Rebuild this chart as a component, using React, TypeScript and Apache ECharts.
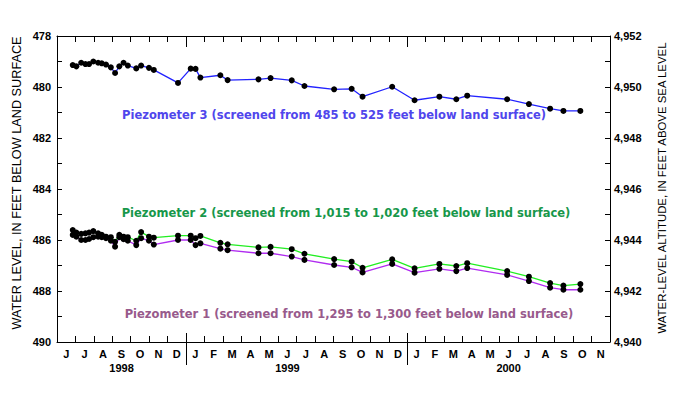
import React, { useEffect, useRef } from "react";
import * as echarts from "echarts";

const dates = [
  "1998-06-27", "1998-07-03", "1998-07-11", "1998-07-18", "1998-07-24", "1998-07-31",
  "1998-08-08", "1998-08-14", "1998-08-21", "1998-08-29", "1998-09-05", "1998-09-12",
  "1998-09-19", "1998-09-26", "1998-10-10", "1998-10-18", "1998-10-31", "1998-11-08",
  "1998-12-18", "1999-01-08", "1999-01-16", "1999-01-24", "1999-02-26", "1999-03-10",
  "1999-04-30", "1999-05-20", "1999-06-24", "1999-07-15", "1999-09-02", "1999-10-01",
  "1999-10-19", "1999-12-07", "2000-01-13", "2000-02-23", "2000-03-22", "2000-04-09",
  "2000-06-14", "2000-07-20", "2000-08-24", "2000-09-15", "2000-10-13",
];

const piezometer3 = [
  479.14, 479.19, 479.05, 479.1, 479.1, 479.0, 479.05, 479.07, 479.12, 479.23, 479.45, 479.19,
  479.05, 479.16, 479.27, 479.16, 479.25, 479.33, 479.84, 479.28, 479.29, 479.63, 479.54, 479.73,
  479.7, 479.65, 479.74, 479.96, 480.09, 480.07, 480.38, 479.99, 480.52, 480.38, 480.48, 480.34,
  480.48, 480.67, 480.85, 480.94, 480.94,
];

const piezometer2 = [
  485.61, 485.71, 485.76, 485.74, 485.71, 485.65, 485.74, 485.8, 485.87, 485.89, 486.07, 485.8,
  485.87, 485.89, 486.03, 485.69, 485.87, 485.91, 485.83, 485.83, 485.93, 485.84, 486.11, 486.17,
  486.29, 486.27, 486.36, 486.54, 486.75, 486.85, 487.09, 486.76, 487.11, 486.94, 487.02, 486.91,
  487.22, 487.44, 487.69, 487.79, 487.73,
];

const piezometer1 = [
  485.8, 485.87, 486.0, 486.0, 485.96, 485.89, 485.87, 485.89, 485.93, 486.03, 486.26, 485.89,
  485.97, 486.03, 486.2, 485.93, 486.03, 486.18, 486.0, 486.0, 486.2, 486.13, 486.34, 486.4,
  486.52, 486.52, 486.65, 486.78, 486.98, 487.07, 487.27, 486.94, 487.28, 487.13, 487.22, 487.1,
  487.37, 487.61, 487.87, 487.95, 487.95,
];

const monthLabels = [
  "J", "J", "A", "S", "O", "N", "D",
  "J", "F", "M", "A", "M", "J", "J", "A", "S", "O", "N", "D",
  "J", "F", "M", "A", "M", "J", "J", "A", "S", "O", "N",
];
const yearLabels = ["1998", "1999", "2000"];
const yearLabelMonthIndex = [3, 12, 24];
const yearStarts = ["1999-01-01", "2000-01-01"];

const depthMin = 478;
const depthMax = 490;
const altMin = 4940;
const altMax = 4952;

const labels = [
  { text: "Piezometer 3 (screened from 485 to 525 feet below land surface)", color: "#5046ec", x: 334, y: 115 },
  { text: "Piezometer 2 (screened from 1,015 to 1,020 feet below land surface)", color: "#17974a", x: 346, y: 213 },
  { text: "Piezometer 1 (screened from 1,295 to 1,300 feet below land surface)", color: "#985a8c", x: 349, y: 314 },
];

const FONT = "Liberation Sans, Arial, sans-serif";
const LABEL_FONT = "DejaVu Sans, Verdana, sans-serif";

export default function App() {
  const ref = useRef<HTMLDivElement>(null);
  useEffect(() => {
    if (!ref.current) return;
    const chart = echarts.init(ref.current, undefined, { renderer: "svg" });
    const mk = (vals: number[]) => dates.map((d, i) => [d, vals[i]]);
    const lineSeries = (name: string, vals: number[], color: string) => ({
      name,
      type: "line",
      xAxisIndex: 0,
      yAxisIndex: 0,
      data: mk(vals),
      symbol: "circle",
      symbolSize: 6,
      showSymbol: true,
      lineStyle: { color, width: 1.3 },
      itemStyle: { color: "#000", borderWidth: 0 },
    });
    const option: any = {
      animation: false,
      backgroundColor: "#fff",
      textStyle: { fontFamily: FONT },
      grid: { left: 57, right: 75, top: 36, bottom: 66, containLabel: false },
      xAxis: [
        {
          type: "time",
          min: new Date(1998, 5, 1).getTime(),
          max: new Date(2000, 11, 1).getTime(),
          show: false,
          position: "bottom",
        },
        {
          type: "category",
          position: "bottom",
          data: monthLabels,
          boundaryGap: true,
          axisLine: { show: true, lineStyle: { color: "#000", width: 1 } },
          axisTick: { show: true, inside: true, length: 6, interval: 0, lineStyle: { color: "#000" } },
          axisLabel: {
            interval: 0,
            margin: 5,
            color: "#000",
            fontSize: 11,
            fontWeight: "bold",
            fontFamily: FONT,
            lineHeight: 14,
            formatter: (v: string, i: number) => {
              const k = yearLabelMonthIndex.indexOf(i);
              return k >= 0 ? v + "\n" + yearLabels[k] : v;
            },
          },
          splitLine: { show: false },
        },
        {
          type: "category",
          position: "top",
          data: monthLabels,
          boundaryGap: true,
          axisLine: { show: true, lineStyle: { color: "#000", width: 1 } },
          axisTick: { show: true, inside: true, length: 6, interval: 0, lineStyle: { color: "#000" } },
          axisLabel: { show: false },
          splitLine: { show: false },
        },
      ],
      yAxis: [
        {
          type: "value",
          inverse: true,
          min: depthMin,
          max: depthMax,
          interval: 1,
          position: "left",
          axisLine: { show: true, lineStyle: { color: "#000" } },
          axisTick: { show: true, inside: true, length: 5, lineStyle: { color: "#000" } },
          axisLabel: {
            color: "#000",
            fontSize: 11,
            fontWeight: "bold",
            fontFamily: FONT,
            margin: 6,
            formatter: (v: number) => (v % 2 === 0 ? String(v) : ""),
          },
          splitLine: { show: false },
        },
        {
          type: "value",
          min: altMin,
          max: altMax,
          interval: 1,
          position: "right",
          axisLine: { show: true, lineStyle: { color: "#000" } },
          axisTick: { show: true, inside: true, length: 5, lineStyle: { color: "#000" } },
          axisLabel: {
            color: "#000",
            fontSize: 11,
            fontWeight: "bold",
            fontFamily: FONT,
            margin: 4,
            formatter: (v: number) => (v % 2 === 0 ? v.toLocaleString("en-US") : ""),
          },
          splitLine: { show: false },
        },
      ],
      series: [
        lineSeries("Piezometer 3", piezometer3, "#2222ff"),
        lineSeries("Piezometer 1", piezometer1, "#b02cf0"),
        lineSeries("Piezometer 2", piezometer2, "#22ee22"),
        {
          type: "custom",
          xAxisIndex: 0,
          yAxisIndex: 0,
          clip: false,
          silent: true,
          data: yearStarts.map((d) => [d, depthMax]),
          renderItem: (params: any, api: any) => {
            const x = Math.round(api.coord([api.value(0), api.value(1)])[0]) + 0.5;
            const cs = params.coordSys;
            const bottom = cs.y + cs.height;
            return {
              type: "group",
              children: [
                { type: "line", shape: { x1: x, y1: bottom - 9, x2: x, y2: bottom + 23 }, style: { stroke: "#000", lineWidth: 1 } },
                { type: "line", shape: { x1: x, y1: cs.y, x2: x, y2: cs.y + 11 }, style: { stroke: "#000", lineWidth: 1 } },
              ],
            };
          },
        },
      ],
      graphic: [
        ...labels.map((l) => ({
          type: "text",
          x: l.x,
          y: l.y,
          style: {
            text: l.text,
            fill: l.color,
            font: `bold 11.5px ${LABEL_FONT}`,
            textAlign: "center",
            textVerticalAlign: "middle",
          },
        })),
        {
          type: "text",
          x: 17,
          y: 183,
          rotation: Math.PI / 2,
          style: {
            text: "WATER LEVEL, IN FEET BELOW LAND SURFACE",
            fill: "#000",
            font: `12.7px ${FONT}`,
            textAlign: "center",
            textVerticalAlign: "middle",
          },
        },
        {
          type: "text",
          x: 662,
          y: 188,
          rotation: Math.PI / 2,
          style: {
            text: "WATER-LEVEL ALTITUDE, IN FEET ABOVE SEA LEVEL",
            fill: "#000",
            font: `11.4px ${FONT}`,
            textAlign: "center",
            textVerticalAlign: "middle",
          },
        },
      ],
    };
    chart.setOption(option);
    return () => chart.dispose();
  }, []);
  return (
    <div
      ref={ref}
      style={{ position: "fixed", left: 0, top: 0, width: 685, height: 408, background: "#fff" }}
    />
  );
}
